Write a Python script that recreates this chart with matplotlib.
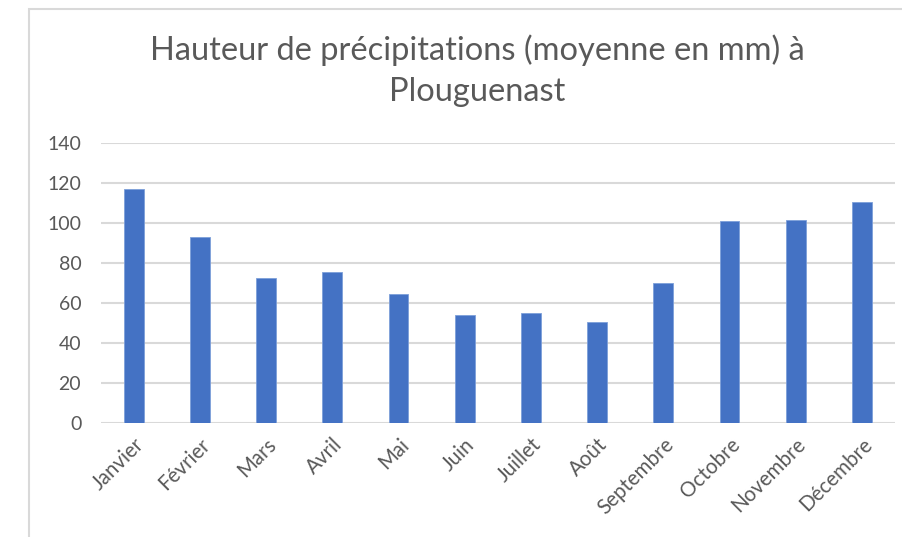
import matplotlib.pyplot as plt
from matplotlib.patches import Rectangle

mois = ['Janvier', 'Février', 'Mars', 'Avril', 'Mai', 'Juin', 'Juillet',
        'Août', 'Septembre', 'Octobre', 'Novembre', 'Décembre']
precip = [116.8, 93.1, 72.4, 75.3, 64.7, 53.9, 55.0, 50.4, 69.9, 101.0, 101.4, 110.4]
yticks = [0, 20, 40, 60, 80, 100, 120, 140]

plt.rcParams['font.family'] = ['Lato', 'DejaVu Sans']

fig = plt.figure(figsize=(9.03, 5.37), dpi=100)
# chart border (cut off at right and bottom like the screenshot)
fig.add_artist(Rectangle((29.5 / 903, -0.1), 1.0, 1 - 8.5 / 537 + 0.1,
                         transform=fig.transFigure, fill=False,
                         edgecolor='#d9d9d9', linewidth=1.5))

ax = fig.add_axes([100.7 / 903, 1 - 423.3 / 537, (895 - 100.7) / 903, (423.3 - 142.7) / 537])
x = range(len(mois))
ax.bar(x, precip, width=0.3, color='#4472C4', edgecolor='#7d9fd9', linewidth=0.6, zorder=3)

ax.set_xlim(-0.5, 11.5)
ax.set_ylim(0, 140)
ax.set_yticks(yticks)
ax.grid(axis='y', color='#d9d9d9', linewidth=1.5, zorder=0)
for s in ax.spines.values():
    s.set_visible(False)
ax.tick_params(length=0, colors='#595959', labelsize=14)
ax.tick_params(axis='y', pad=14)
ax.set_xticks(list(x))
ax.set_xticklabels(mois, rotation=45, ha='right', va='top', rotation_mode='anchor',
                   fontsize=14.8)
ax.tick_params(axis='x', pad=8)

fig.text(0.529, 1 - 50 / 537, 'Hauteur de précipitations (moyenne en mm) à',
         ha='center', va='center', fontsize=23.5, color='#595959')
fig.text(0.529, 1 - 92 / 537, 'Plouguenast',
         ha='center', va='center', fontsize=23.5, color='#595959')

fig.savefig('out.png', dpi=100)
